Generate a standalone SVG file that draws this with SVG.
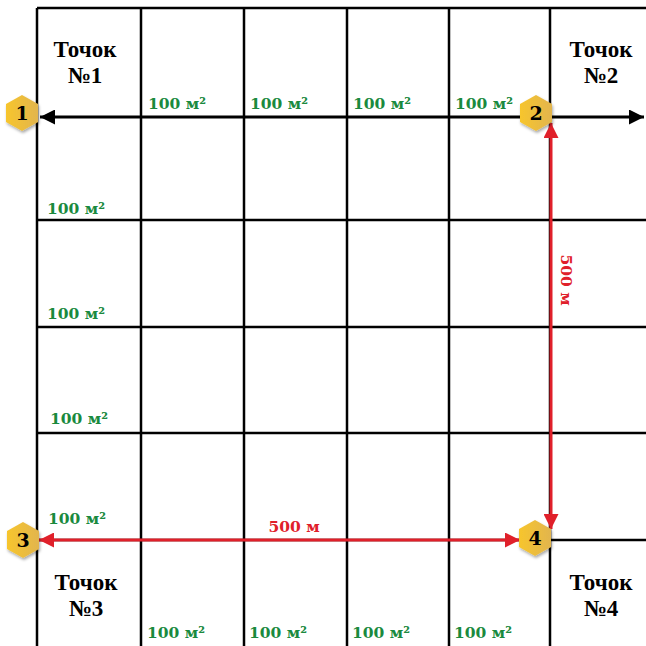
<svg xmlns="http://www.w3.org/2000/svg" width="646" height="646" viewBox="0 0 646 646">
<style>
.grid{stroke:#000;stroke-width:2.5;fill:none}
.lbl{font-family:"Liberation Serif","DejaVu Serif",serif;font-weight:bold;font-size:23px;fill:#000;text-anchor:middle}
.area{font-family:"DejaVu Serif","Liberation Serif",serif;font-weight:bold;font-size:15.5px;fill:#1a8a3e}
.dist{font-family:"DejaVu Serif","Liberation Serif",serif;font-weight:bold;font-size:15.5px;fill:#e0202a;text-anchor:middle}
.hex{fill:url(#hg);filter:url(#sh)}
.num{font-family:"DejaVu Serif","Liberation Serif",serif;font-weight:bold;font-size:19px;fill:#000;text-anchor:middle}
</style>
<defs>
<linearGradient id="hg" x1="0" y1="0" x2="1" y2="0">
<stop offset="0" stop-color="#f7c52c"/>
<stop offset="1" stop-color="#e2b54e"/>
</linearGradient>
<filter id="sh" x="-30%" y="-30%" width="160%" height="160%">
<feDropShadow dx="1" dy="2" stdDeviation="1.5" flood-color="#000" flood-opacity="0.35"/>
</filter>
<marker id="ab" viewBox="0 0 10 10" refX="10" refY="5" markerWidth="7" markerHeight="5" orient="auto-start-reverse" markerUnits="strokeWidth">
<path d="M0,0L10,5L0,10z" fill="#000"/>
</marker>
<marker id="ar" viewBox="0 0 10 10" refX="10" refY="5" markerWidth="8" markerHeight="5" orient="auto-start-reverse" markerUnits="strokeWidth">
<path d="M0,0L10,5L0,10z" fill="#e0202a"/>
</marker>
</defs>
<rect width="646" height="646" fill="#fff"/>
<g id="grid">
<path class="grid" d="M37,8H646M37,8V646M141,8V646M244,8V646M347,8V646M449,8V646M550,8V646M37,220H646M37,327H646M37,433H646M37,540H646"/>
</g>
<g id="connectors">
<line x1="40" y1="117" x2="644" y2="117" stroke="#000" stroke-width="3" marker-start="url(#ab)" marker-end="url(#ab)"/>
<line x1="551" y1="123" x2="551" y2="529" stroke="#e0202a" stroke-width="3" marker-start="url(#ar)" marker-end="url(#ar)"/>
<line x1="39" y1="540" x2="520" y2="540" stroke="#e0202a" stroke-width="3" marker-start="url(#ar)" marker-end="url(#ar)"/>
<text class="dist" x="294" y="532">500 м</text>
<text class="dist" transform="translate(561,280) rotate(90)">500 м</text>
</g>
<g id="areas">
<text class="area" x="148" y="109">100 м²</text>
<text class="area" x="250" y="109">100 м²</text>
<text class="area" x="353" y="109">100 м²</text>
<text class="area" x="455" y="109">100 м²</text>
<text class="area" x="47" y="214">100 м²</text>
<text class="area" x="47" y="319">100 м²</text>
<text class="area" x="50" y="424">100 м²</text>
<text class="area" x="48" y="524">100 м²</text>
<text class="area" x="147" y="638">100 м²</text>
<text class="area" x="249" y="638">100 м²</text>
<text class="area" x="352" y="638">100 м²</text>
<text class="area" x="454" y="638">100 м²</text>
</g>
<g id="p1">
<text class="lbl" x="85" y="57">Точок</text>
<text class="lbl" x="85" y="83">№1</text>
<polygon class="hex" points="22,95 38,104 38,122 22,131 6,122 6,104"/>
<text class="num" x="22" y="120">1</text>
</g>
<g id="p2">
<text class="lbl" x="601" y="57">Точок</text>
<text class="lbl" x="601" y="83">№2</text>
<polygon class="hex" points="536,95 552,104 552,122 536,131 520,122 520,104"/>
<text class="num" x="536" y="120">2</text>
</g>
<g id="p3">
<text class="lbl" x="86" y="590">Точок</text>
<text class="lbl" x="86" y="616">№3</text>
<polygon class="hex" points="23,522 39,531 39,549 23,558 7,549 7,531"/>
<text class="num" x="23" y="547">3</text>
</g>
<g id="p4">
<text class="lbl" x="601" y="590">Точок</text>
<text class="lbl" x="601" y="616">№4</text>
<polygon class="hex" points="535,520 551,529 551,547 535,556 519,547 519,529"/>
<text class="num" x="535" y="545">4</text>
</g>
</svg>
